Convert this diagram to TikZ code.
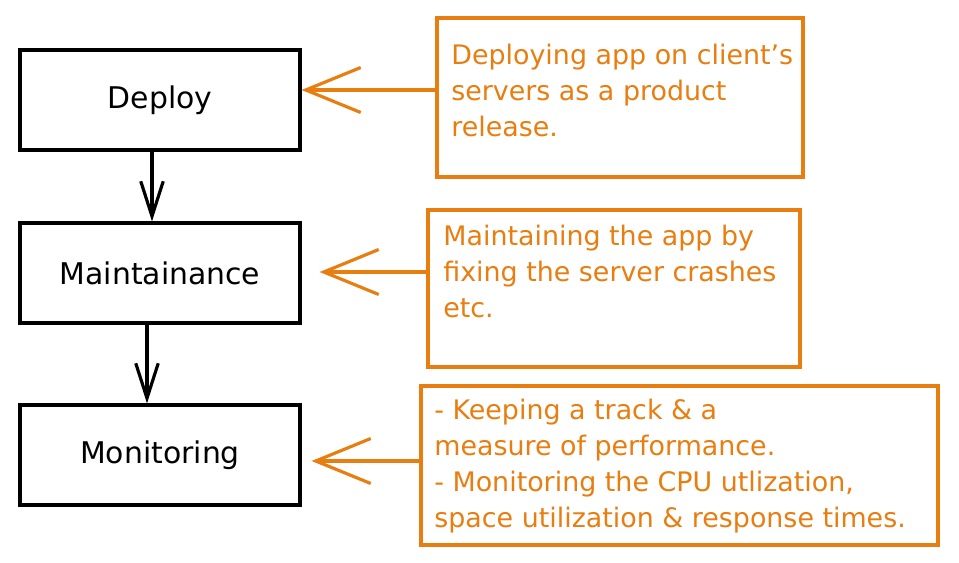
\documentclass[tikz,border=0pt]{standalone}
\usepackage{fontspec}
\setmainfont{DejaVu Sans}
\usetikzlibrary{arrows.meta}
\definecolor{noteorange}{RGB}{232,125,16}
\tikzset{
  stage/.style={draw, line width=1.8pt, minimum width=5.6cm, minimum height=2cm,
    font=\fontsize{17}{20.5}\selectfont},
  notebox/.style={draw=noteorange, line width=1.8pt},
  notetext/.style={text=noteorange, anchor=north west, inner sep=0pt, align=left,
    font=\fontsize{15.3}{20.5}\selectfont},
  flow/.style={-{Straight Barb[length=0.7cm, width=0.45cm, line width=1.8pt]}, line width=1.8pt},
  pointer/.style={draw=noteorange, line width=1.8pt,
    -{Straight Barb[length=1.1cm, width=0.9cm, line width=1.8pt]}}
}
\begin{document}
\begin{tikzpicture}[x=0.02cm, y=-0.02cm]
 \useasboundingbox (0,0) rectangle (959,563);

 % stages
 \node[stage] (deploy)   at (160, 100) {Deploy};
 \node[stage] (maintain) at (160, 273) {Maintainance};
 \node[stage] (monitor)  at (160, 455) {Monitoring};

 % notes
 \node[notebox, minimum width=7.32cm, minimum height=3.18cm] (n1) at (620, 97.5) {};
 \node[notebox, minimum width=7.44cm, minimum height=3.14cm] (n2) at (614, 288.5) {};
 \node[notebox, minimum width=10.34cm, minimum height=3.18cm] (n3) at (679.5, 465.5) {};

 \node[notetext] (t1) at (451, 44) {Deploying app on client's\\servers as a product\\release.};
 \node[notetext] (t2) at (443, 225) {Maintaining the app by\\fixing the server crashes\\etc.};
 \node[notetext] (t3) at (434, 399) {- Keeping a track \& a\\measure of performance.\\- Monitoring the CPU utlization,\\space utilization \& response times.};

 % flow
 \draw[flow] (deploy.south -| 152,0) -- (maintain.north -| 152,0);
 \draw[flow] (maintain.south -| 147,0) -- (monitor.north -| 147,0);

 \draw[pointer] (n1.west |- 0,90) -- (deploy.east |- 0,90);
 \draw[pointer] (n2.west |- 0,272) -- ([xshift=0.36cm]maintain.east |- 0,272);
 \draw[pointer] (n3.west |- 0,461) -- ([xshift=0.2cm]monitor.east |- 0,461);
\end{tikzpicture}
\end{document}
